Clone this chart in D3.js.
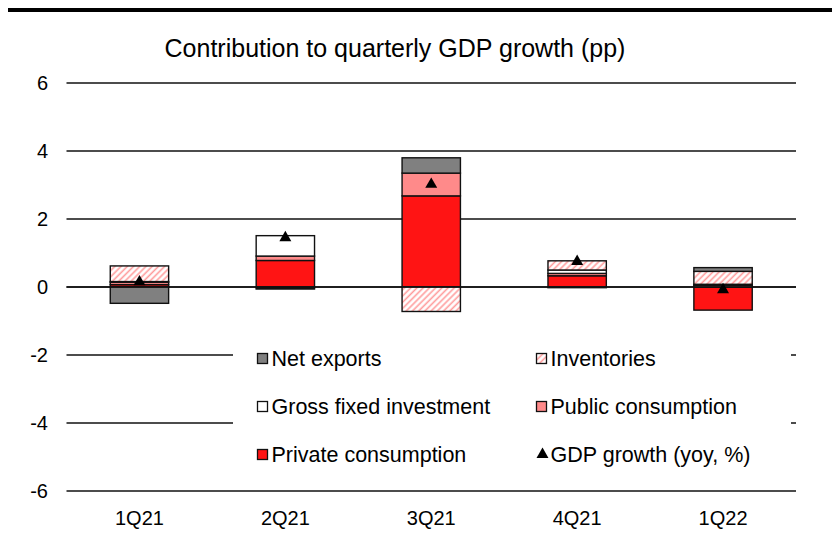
<!DOCTYPE html>
<html>
<head>
<meta charset="utf-8">
<script src="https://cdn.jsdelivr.net/npm/d3@7"></script>
<style>
  body { margin: 0; background: #fff; }
  svg { display: block; font-family: "Liberation Sans", Arial, sans-serif; }
</style>
</head>
<body>
<svg id="chart"></svg>
<script>
// quarters and contributions (pp)
const quarters = ["1Q21", "2Q21", "3Q21", "4Q21", "1Q22"]
const privateCons = [0.07, 0.78, 2.68, 0.33, -0.68]
const publicCons = [0.07, 0.13, 0.67, 0.07, 0.05]
const gfi = [0.02, 0.60, 0.00, 0.10, 0.03]
const inventories = [0.46, -0.02, -0.72, 0.27, 0.38]
const netExports = [-0.48, -0.04, 0.45, -0.02, 0.11]
const gdpGrowth = [0.15, 1.45, 3.02, 0.75, -0.08]
const yTicks = [-6, -4, -2, 0, 2, 4, 6]

const width = 832, height = 541
const plot = { left: 66.5, right: 796, top: 83, bottom: 491 }

const svg = d3.select('#chart')
    .attr('width', width)
    .attr('height', height)

const defs = svg.append('defs')
defs.append('pattern')
    .attr('id', 'hatch')
    .attr('patternUnits', 'userSpaceOnUse')
    .attr('width', 4.4)
    .attr('height', 4.4)
    .attr('patternTransform', 'rotate(45)')
    .call(p => p.append('rect').attr('width', 4.4).attr('height', 4.4).attr('fill', '#fff'))
    .append('line')
    .attr('x1', 1.2).attr('x2', 1.2)
    .attr('y1', 0).attr('y2', 4.4)
    .attr('stroke', '#ff9c9c')
    .attr('stroke-width', 1.6)

const series = [
    { key: 'private', name: 'Private consumption', values: privateCons, fill: '#ff1414' },
    { key: 'public', name: 'Public consumption', values: publicCons, fill: '#ff8a8a' },
    { key: 'gfi', name: 'Gross fixed investment', values: gfi, fill: '#ffffff' },
    { key: 'inv', name: 'Inventories', values: inventories, fill: 'url(#hatch)' },
    { key: 'net', name: 'Net exports', values: netExports, fill: '#808080' }
]

const rows = quarters.map((q, i) => {
    const r = { q }
    series.forEach(s => r[s.key] = s.values[i])
    return r
})

const stacked = d3.stack()
    .keys(series.map(s => s.key))
    .offset(d3.stackOffsetDiverging)(rows)

const x = d3.scaleBand()
    .domain(quarters)
    .range([plot.left, plot.right])
    .paddingInner(0.6)
    .paddingOuter(0.3)

const y = d3.scaleLinear()
    .domain([-6, 6])
    .range([plot.bottom, plot.top])

// thick rule at the top
svg.append('rect')
    .attr('x', 8).attr('y', 8)
    .attr('width', width - 8).attr('height', 4)
    .attr('fill', '#000')

svg.append('text')
    .attr('x', 395)
    .attr('y', 57)
    .attr('text-anchor', 'middle')
    .attr('font-size', 25)
    .attr('fill', '#000')
    .text('Contribution to quarterly GDP growth (pp)')

// gridlines
svg.append('g')
    .selectAll('line')
    .data(yTicks)
    .join('line')
    .attr('x1', plot.left).attr('x2', plot.right)
    .attr('y1', d => y(d)).attr('y2', d => y(d))
    .attr('stroke', '#111')
    .attr('stroke-width', 1.6)

svg.append('g')
    .selectAll('text')
    .data(yTicks)
    .join('text')
    .attr('x', 48)
    .attr('y', d => y(d))
    .attr('dy', '0.35em')
    .attr('text-anchor', 'end')
    .attr('font-size', 20)
    .text(d => d)

// bars
const fills = Object.fromEntries(series.map(s => [s.key, s.fill]))
svg.append('g')
    .selectAll('g')
    .data(stacked)
    .join('g')
    .attr('fill', d => fills[d.key])
    .selectAll('rect')
    .data(d => d)
    .join('rect')
    .attr('x', d => x(d.data.q))
    .attr('y', d => y(d[1]))
    .attr('width', x.bandwidth())
    .attr('height', d => Math.abs(y(d[0]) - y(d[1])))
    .attr('stroke', '#111')
    .attr('stroke-width', 1.4)

// zero axis
svg.append('line')
    .attr('x1', plot.left).attr('x2', plot.right)
    .attr('y1', y(0)).attr('y2', y(0))
    .attr('stroke', '#111')
    .attr('stroke-width', 1.6)

// GDP markers
const tri = d3.symbol().type(d3.symbolTriangle).size(62)
svg.append('g')
    .selectAll('path')
    .data(gdpGrowth)
    .join('path')
    .attr('d', tri)
    .attr('transform', (d, i) => `translate(${x(quarters[i]) + x.bandwidth() / 2},${y(d)})`)
    .attr('fill', '#000')

// x labels
svg.append('g')
    .selectAll('text')
    .data(quarters)
    .join('text')
    .attr('x', d => x(d) + x.bandwidth() / 2)
    .attr('y', 525)
    .attr('text-anchor', 'middle')
    .attr('font-size', 20)
    .text(d => d)

// legend
const legend = svg.append('g')
legend.append('rect')
    .attr('x', 233).attr('y', 333)
    .attr('width', 558).attr('height', 145)
    .attr('fill', '#fff')

const legendItems = [
    { name: 'Net exports', fill: '#808080', col: 0, row: 0 },
    { name: 'Inventories', fill: 'url(#hatch)', col: 1, row: 0 },
    { name: 'Gross fixed investment', fill: '#ffffff', col: 0, row: 1 },
    { name: 'Public consumption', fill: '#ff8a8a', col: 1, row: 1 },
    { name: 'Private consumption', fill: '#ff1414', col: 0, row: 2 },
    { name: 'GDP growth (yoy, %)', fill: null, col: 1, row: 2 }
]
const colX = [257.5, 536.5], rowY = [358.5, 406.5, 454.5]

const li = legend.selectAll('g.item')
    .data(legendItems)
    .join('g')
    .attr('class', 'item')
    .attr('transform', d => `translate(${colX[d.col]},${rowY[d.row]})`)

li.filter(d => d.fill)
    .append('rect')
    .attr('x', 0).attr('y', -5)
    .attr('width', 10).attr('height', 10)
    .attr('fill', d => d.fill)
    .attr('stroke', '#111')
    .attr('stroke-width', 1.3)

li.filter(d => !d.fill)
    .append('path')
    .attr('d', tri)
    .attr('transform', 'translate(6,0)')
    .attr('fill', '#000')

li.append('text')
    .attr('x', 14)
    .attr('dy', '0.35em')
    .attr('font-size', 21.5)
    .text(d => d.name)
</script>
</body>
</html>
